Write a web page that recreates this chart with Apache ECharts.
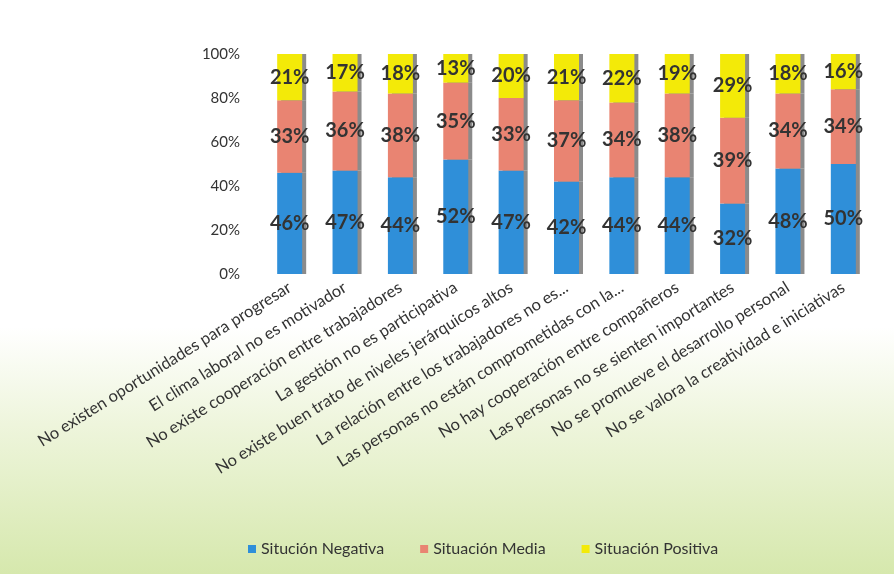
<!DOCTYPE html>
<html>
<head>
<meta charset="utf-8">
<script src="https://cdn.jsdelivr.net/npm/echarts@6/dist/echarts.min.js"></script>
<style>
    html, body { margin: 0; padding: 0; }
    #clima {
        width: 894px; height: 574px;
        background: linear-gradient(to bottom, #ffffff 0%, #ffffff 57%, #eef5dc 74%, #d6e8ad 100%);
        position: relative;
    }
    #frame {
        position: absolute; left: 8px; top: 10px; right: 0; bottom: 0;
        border-top: 1px dashed #a8a8a8; border-left: 1px solid #b0b0b0;
        pointer-events: none;
    }
</style>
</head>
<body>
<div id="clima"><div id="frame"></div></div>
<script>
    // categorías del eje X
    var categorias = [
        'No existen oportunidades para progresar',
        'El clima laboral no es motivador',
        'No existe cooperación entre trabajadores',
        'La gestión no es participativa',
        'No existe buen trato de niveles jerárquicos altos',
        'La relación entre los trabajadores no es...',
        'Las personas no están comprometidas con la...',
        'No hay cooperación entre compañeros',
        'Las personas no se sienten importantes',
        'No se promueve el desarrollo personal',
        'No se valora la creatividad e iniciativas'
    ];
    var negativa = [46, 47, 44, 52, 47, 42, 44, 44, 32, 48, 50];
    var media    = [33, 36, 38, 35, 33, 37, 34, 38, 39, 34, 34];
    var positiva = [21, 17, 18, 13, 20, 21, 22, 19, 29, 18, 16];
    var ticksY   = [0, 20, 40, 60, 80, 100];

    var chart = echarts.init(document.getElementById('clima'));

    var fuente = 'Lato, "Open Sans", sans-serif';
    var etiqueta = {
        show: true,
        position: 'inside',
        formatter: '{c}%',
        fontFamily: fuente,
        fontSize: 20,
        fontWeight: 'bold',
        color: '#333'
    };
    var sombra = {
        shadowColor: 'rgba(110,110,110,0.8)',
        shadowOffsetX: 4,
        shadowOffsetY: 0,
        shadowBlur: 0
    };

    function serie(nombre, datos, color) {
        return {
            name: nombre,
            type: 'bar',
            stack: 'total',
            barWidth: 25,
            data: datos,
            label: etiqueta,
            itemStyle: Object.assign({ color: color }, sombra)
        };
    }

    var option = {
        backgroundColor: 'transparent',
        animation: false,
        textStyle: { fontFamily: fuente },
        grid: { left: 262, right: 23, top: 54, bottom: 300 },
        legend: {
            bottom: 12,
            left: 243,
            itemWidth: 8,
            itemHeight: 8,
            itemGap: 36,
            icon: 'rect',
            textStyle: { fontFamily: fuente, fontSize: 16, color: '#333' },
            data: ['Situción Negativa', 'Situación Media', 'Situación Positiva']
        },
        xAxis: {
            type: 'category',
            data: categorias,
            axisLine: { show: false },
            axisTick: { show: false },
            axisLabel: {
                rotate: 32,
                interval: 0,
                margin: 12,
                fontFamily: fuente,
                fontSize: 16.5,
                color: '#333'
            }
        },
        yAxis: {
            type: 'value',
            min: ticksY[0],
            max: ticksY[ticksY.length - 1],
            interval: 20,
            splitLine: { show: false },
            axisLine: { show: false },
            axisTick: { show: false },
            axisLabel: {
                formatter: '{value}%',
                margin: 22,
                fontFamily: fuente,
                fontSize: 15,
                color: '#333'
            }
        },
        series: [
            serie('Situción Negativa', negativa, '#2f8fd9'),
            serie('Situación Media', media, '#e98472'),
            serie('Situación Positiva', positiva, '#f3ea08')
        ]
    };
    chart.setOption(option);
    window.addEventListener('resize', function () {
        chart.resize();
    });
</script>
</body>
</html>
